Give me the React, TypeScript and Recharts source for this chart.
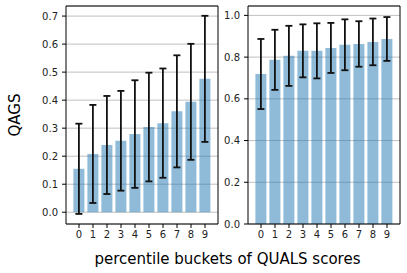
import React from "react";
import { BarChart, Bar, XAxis, YAxis, CartesianGrid, ErrorBar } from "recharts";

const buckets = ["0", "1", "2", "3", "4", "5", "6", "7", "8", "9"];
const qagsMean = [0.155, 0.208, 0.24, 0.255, 0.279, 0.304, 0.318, 0.36, 0.394, 0.476];
const qagsStd = [0.161, 0.175, 0.175, 0.178, 0.192, 0.194, 0.195, 0.2, 0.207, 0.225];
const rightMean = [0.719, 0.787, 0.806, 0.83, 0.83, 0.844, 0.859, 0.863, 0.873, 0.887];
const rightStd = [0.168, 0.144, 0.144, 0.127, 0.132, 0.12, 0.122, 0.109, 0.112, 0.105];
const leftTicks = [0, 0.1, 0.2, 0.3, 0.4, 0.5, 0.6, 0.7];
const rightTicks = [0, 0.2, 0.4, 0.6, 0.8, 1.0];
const xLabel = "percentile buckets of QUALS scores";
const yLabel = "QAGS";

const leftData = buckets.map((b, i) => ({ bucket: b, mean: qagsMean[i], std: qagsStd[i] }));
const rightData = buckets.map((b, i) => ({ bucket: b, mean: rightMean[i], std: rightStd[i] }));

const FONT = "DejaVu Sans";
const tickStyle = { fontSize: 10, fill: "#222", fontFamily: FONT };

function Panel(props: {
  data: any[];
  ticks: number[];
  domain: [number, number];
  width: number;
  yWidth: number;
  right: number;
}) {
  const { data, ticks, domain, width, yWidth, right } = props;
  return (
    <BarChart
      width={width}
      height={273}
      data={data}
      margin={{ top: 6, right: right, bottom: 19, left: 0 }}
      barCategoryGap="10%"
    >
      <CartesianGrid vertical={false} stroke="#b0b0b0" strokeWidth={0.8} />
      <CartesianGrid
        stroke="#000"
        strokeWidth={1}
        horizontalCoordinatesGenerator={(p: any) => [p.offset.top]}
        verticalCoordinatesGenerator={(p: any) => [p.offset.left + p.offset.width]}
      />
      <XAxis
        dataKey="bucket"
        height={30}
        padding={{ left: 6, right: 6 }}
        tick={tickStyle}
        tickLine={{ stroke: "#000" }}
        axisLine={{ stroke: "#000" }}
        tickSize={4}
        tickMargin={3}
        interval={0}
      />
      <YAxis
        width={yWidth}
        domain={domain}
        ticks={ticks}
        allowDataOverflow
        tickFormatter={(v: number) => v.toFixed(1)}
        tick={tickStyle}
        tickLine={{ stroke: "#000" }}
        axisLine={{ stroke: "#000" }}
        tickSize={4}
        tickMargin={4}
      />
      <Bar dataKey="mean" fill="#1f77b4" fillOpacity={0.5} isAnimationActive={false}>
        <ErrorBar dataKey="std" width={3.5} stroke="#111" strokeWidth={1.8} isAnimationActive={false} />
      </Bar>
    </BarChart>
  );
}

export default function App() {
  return (
    <div style={{ position: "absolute", left: 0, top: 0, width: 407, height: 273, background: "#fff" }}>
      <div style={{ position: "absolute", left: 0, top: 0 }}>
        <Panel data={leftData} ticks={leftTicks} domain={[-0.042, 0.736]} width={230} yWidth={66} right={12} />
      </div>
      <div style={{ position: "absolute", left: 215, top: 0 }}>
        <Panel data={rightData} ticks={rightTicks} domain={[0, 1.045]} width={192} yWidth={33} right={7} />
      </div>
      <svg
        width={407}
        height={273}
        style={{ position: "absolute", left: 0, top: 0, pointerEvents: "none" }}
      >
        <text x={227.5} y={264} textAnchor="middle" fontSize={15} fontFamily={FONT} fill="#000">
          {xLabel}
        </text>
        <text
          x={0}
          y={0}
          transform="translate(15,115) rotate(-90)"
          textAnchor="middle"
          dominantBaseline="central"
          fontSize={15}
          fontFamily={FONT}
          fill="#000"
        >
          {yLabel}
        </text>
      </svg>
    </div>
  );
}
